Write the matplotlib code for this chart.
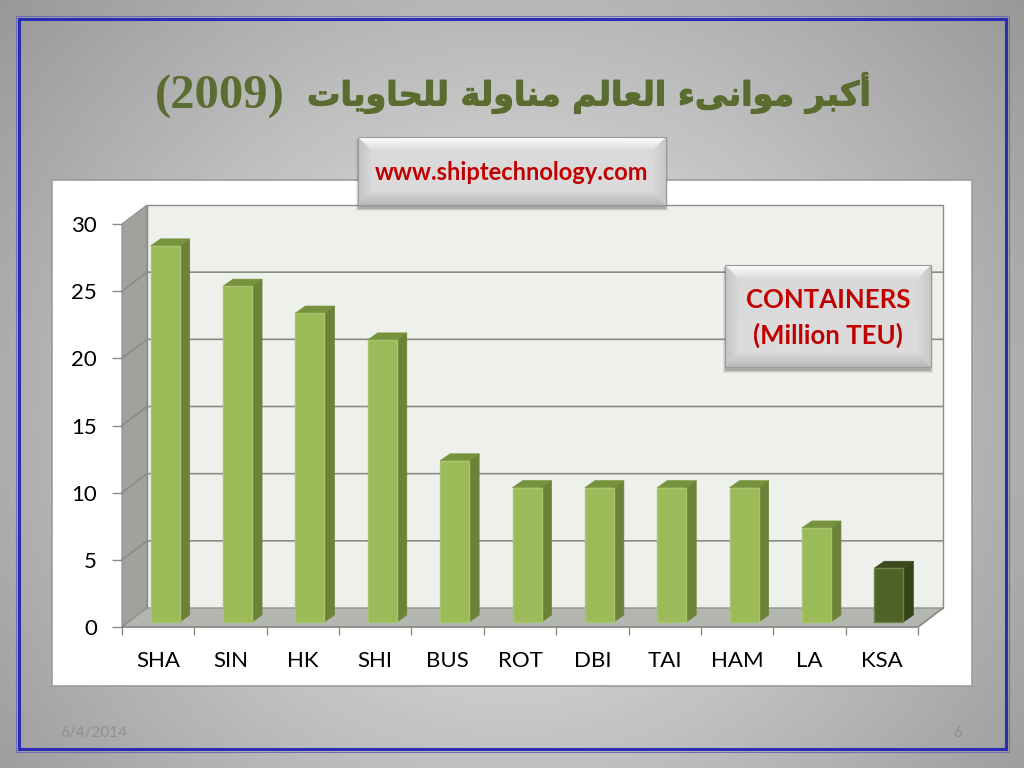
import numpy as np
import matplotlib
matplotlib.use('Agg')
import matplotlib.pyplot as plt
import matplotlib.patheffects as pe
from matplotlib.patches import Polygon, Rectangle

# data
ports = ['SHA', 'SIN', 'HK', 'SHI', 'BUS', 'ROT', 'DBI', 'TAI', 'HAM', 'LA', 'KSA']
teu = [28, 25, 23, 21, 12, 10, 10, 10, 10, 7, 4]
y_ticks = [0, 5, 10, 15, 20, 25, 30]
source_text = 'www.shiptechnology.com'
unit_lines = 'CONTAINERS\n(Million TEU)'
slide_date = '6/4/2014'
slide_number = '6'
title_year = '(2009)'
# matplotlib does no arabic shaping, so words are in presentation forms, logical order
title_words = ['\uFE83\uFEDB\uFE92\uFEAE',
               '\uFEE3\uFEEE\uFE8D\uFEE7\uFEF0\uFE80',
               '\uFE8D\uFEDF\uFECC\uFE8E\uFEDF\uFEE2',
               '\uFEE3\uFEE8\uFE8E\uFEED\uFEDF\uFE94',
               '\uFEDF\uFEE0\uFEA4\uFE8E\uFEED\uFEF3\uFE8E\uFE95']
title_visual = ' '.join(title_words)[::-1]

W, H = 1024, 768
LINE = '#8a8c88'
OLIVE = '#5b6c30'
RED = '#c00000'

plt.rcParams['font.family'] = ['Lato', 'DejaVu Sans']

fig = plt.figure(figsize=(W / 100, H / 100), dpi=100)


def pixel_axes(zorder):
    a = fig.add_axes([0, 0, 1, 1], zorder=zorder)
    a.set_axis_off()
    a.patch.set_alpha(0)
    return a


def fix_limits(a):
    a.set_xlim(0, W)
    a.set_ylim(H, 0)


def gradient_poly(a, pts, top, bottom, horizontal=False):
    # polygon filled with a linear grey ramp
    pts = np.array(pts, dtype=float)
    ramp = np.linspace(top, bottom, 64)
    img = ramp[:, None] if not horizontal else ramp[None, :]
    x0, x1 = pts[:, 0].min(), pts[:, 0].max()
    y0, y1 = pts[:, 1].min(), pts[:, 1].max()
    im = a.imshow(img, cmap='gray', vmin=0, vmax=1, aspect='auto', zorder=3,
                  extent=(x0, x1, y1, y0), interpolation='bilinear')
    clip = Polygon(pts, closed=True, transform=a.transData, fc='none', ec='none')
    a.add_patch(clip)
    im.set_clip_path(clip)


def bevel_box(a, x0, y0, x1, y1, b=14):
    # soft shadow first
    for grow, alpha in [(3, 0.07), (2, 0.10), (1, 0.14)]:
        a.add_patch(Rectangle((x0 - grow + 1, y0 + 2), x1 - x0 + 2 * grow - 2, y1 - y0 + grow + 1,
                              fc='black', ec='none', alpha=alpha, zorder=1))
    a.add_patch(Rectangle((x0, y0), x1 - x0, y1 - y0, fc='#d9d9d9', ec='none', zorder=2))
    gradient_poly(a, [(x0 + b, y0 + b), (x1 - b, y0 + b), (x1 - b, y1 - b), (x0 + b, y1 - b)], 0.85, 0.86)
    gradient_poly(a, [(x0, y0), (x1, y0), (x1 - b, y0 + b), (x0 + b, y0 + b)], 1.0, 0.85)
    gradient_poly(a, [(x0, y0), (x0 + b, y0 + b), (x0 + b, y1 - b), (x0, y1)], 0.76, 0.85, True)
    gradient_poly(a, [(x1, y0), (x1 - b, y0 + b), (x1 - b, y1 - b), (x1, y1)], 0.85, 0.78, True)
    gradient_poly(a, [(x0, y1), (x1, y1), (x1 - b, y1 - b), (x0 + b, y1 - b)], 0.85, 0.72)
    a.add_patch(Rectangle((x0, y0), x1 - x0, y1 - y0, fc='none', ec='#9a9a9a', lw=0.8, zorder=4))


# slide background with radial light
bg = pixel_axes(0)
yy, xx = np.mgrid[0:H, 0:W]
dist = np.sqrt(((xx - 512) / 720) ** 2 + ((yy - 420) / 700) ** 2)
shade = np.clip(0.93 - 0.36 * dist, 0, 1)
bg.imshow(shade, cmap='gray', vmin=0, vmax=1, aspect='auto', extent=(0, W, H, 0))
bg.add_patch(Rectangle((15.5, 15.5), 993, 736, fc='none', ec='#6d70b8', lw=0.8))
bg.add_patch(Rectangle((18.5, 18.5), 987, 730, fc='none', ec='#2a2db4', lw=2.2))
bg.add_patch(Rectangle((52, 179.5), 920, 506, fc='white', ec='#9c9c9c', lw=1.2))
title_fx = [pe.withStroke(linewidth=0.8, foreground=OLIVE)]
bg.text(873, 93, title_visual, family=['DejaVu Sans'], weight='bold', fontsize=24, color=OLIVE,
        ha='right', va='center', path_effects=title_fx)
bg.text(155, 97, title_year, family=['Liberation Serif'], weight='bold', fontsize=35, color=OLIVE,
        ha='left', va='center')
bg.text(60, 733, slide_date, fontsize=11, color='#8f8f8f', ha='left', va='center')
bg.text(958, 733, slide_number, fontsize=11, color='#8f8f8f', ha='center', va='center')
fix_limits(bg)

# chart: axes box is the front plane of the 3d frame
left, right, base, top = 122, 918, 627, 224
ax = fig.add_axes([left / W, 1 - base / H, (right - left) / W, (base - top) / H], zorder=1)
ax.patch.set_alpha(0)
ax.set_xlim(0, len(ports))
ax.set_ylim(0, 30)
for s in ax.spines.values():
    s.set_visible(False)

px = len(ports) / (right - left)
py = 30 / (base - top)
wall_dx, wall_dy = 25 * px, 19 * py
n = len(ports)
ax.add_patch(Polygon([(wall_dx, wall_dy), (n + wall_dx, wall_dy), (n + wall_dx, 30 + wall_dy), (wall_dx, 30 + wall_dy)],
                     fc='#eef1eb', ec=LINE, lw=1.0, clip_on=False, zorder=1))
ax.add_patch(Polygon([(0, 0), (wall_dx, wall_dy), (wall_dx, 30 + wall_dy), (0, 30)],
                     fc='#a0a29c', ec=LINE, lw=0.8, clip_on=False, zorder=1))
ax.add_patch(Polygon([(0, 0), (n, 0), (n + wall_dx, wall_dy), (wall_dx, wall_dy)],
                     fc='#b4b6b0', ec=LINE, lw=0.8, clip_on=False, zorder=1))
for t in y_ticks[1:-1]:
    ax.plot([0, wall_dx, n + wall_dx], [t, t + wall_dy, t + wall_dy], color=LINE, lw=1.2,
            clip_on=False, zorder=2)

# bars with side and top faces
xs = np.arange(n) + 0.5 + 7 * px
bar_w = 29 * px
bar_bottom = 5 * py
side_dx, side_dy = 10 * px, 7 * py
faces = ['#9bbb59'] * (n - 1) + ['#4f6228']
sides = ['#6b8238'] * (n - 1) + ['#36441a']
tops = ['#76923c'] * (n - 1) + ['#3c4b1e']
edges = ['#a9c46f'] * (n - 1) + ['#6f8446']
ax.bar(xs, teu, width=bar_w, bottom=bar_bottom, color=faces, edgecolor=edges, linewidth=1.0,
       clip_on=False, zorder=4)
for x, v, sc, tc in zip(xs, teu, sides, tops):
    r = x + bar_w / 2
    l = x - bar_w / 2
    h = v + bar_bottom
    ax.add_patch(Polygon([(r, bar_bottom), (r + side_dx, bar_bottom + side_dy), (r + side_dx, h + side_dy), (r, h)],
                         fc=sc, ec=sc, lw=0.5, clip_on=False, zorder=3))
    ax.add_patch(Polygon([(l, h), (r, h), (r + side_dx, h + side_dy), (l + side_dx, h + side_dy)],
                         fc=tc, ec=tc, lw=0.5, clip_on=False, zorder=3))

ax.set_yticks(y_ticks)
ax.tick_params(axis='y', length=7, width=1.0, color=LINE, labelsize=16, pad=11, labelcolor='black')
ax.set_xticks(np.arange(n + 1))
ax.set_xticklabels([])
ax.set_xticks(np.arange(n) + 0.5, minor=True)
ax.set_xticklabels(ports, minor=True, fontsize=16, color='black')
ax.tick_params(axis='x', which='major', length=6, width=1.0, color=LINE)
ax.tick_params(axis='x', which='minor', length=0, pad=17)
ax.plot([0, n, n + wall_dx], [0, 0, wall_dy], color=LINE, lw=1.2, clip_on=False, zorder=2)

# raised label boxes sit on top of everything
over = pixel_axes(2)
bevel_box(over, 358, 137, 666, 205)
over.text(512, 172, source_text, fontsize=17, weight='bold', color=RED, ha='center', va='center', zorder=5)
bevel_box(over, 725, 265, 931, 367)
over.text(828, 318, unit_lines, fontsize=18.5, weight='bold', color=RED, ha='center', va='center',
          linespacing=1.55, zorder=5)
fix_limits(over)

fig.savefig('out.png', dpi=100)
